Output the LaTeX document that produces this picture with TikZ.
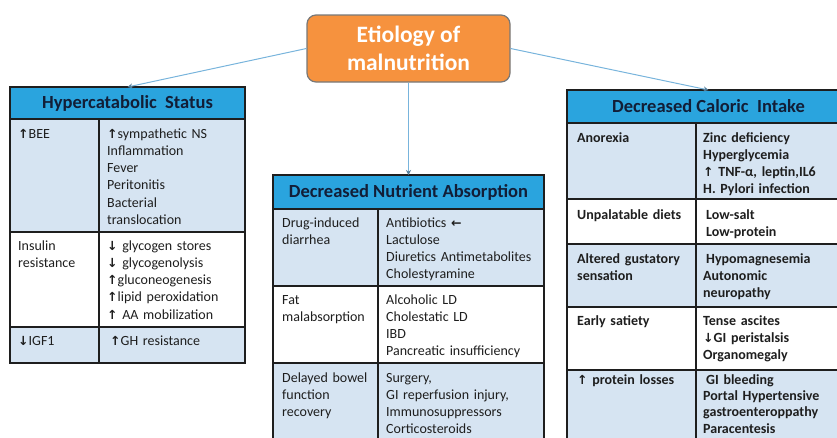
\documentclass[tikz,border=0pt]{standalone}
\usepackage{fontspec}
\setmainfont{Carlito}
\newfontfamily\arrfont{DejaVu Sans}
\usetikzlibrary{arrows.meta}
\definecolor{hdrblue}{RGB}{42,164,222}
\definecolor{rowblue}{RGB}{214,228,242}
\definecolor{bordc}{RGB}{30,30,30}
\definecolor{orangec}{RGB}{246,146,62}
\definecolor{orangeb}{RGB}{120,120,120}
\definecolor{connc}{RGB}{120,180,220}
\definecolor{hdrtext}{RGB}{18,30,55}
\definecolor{bodytext}{RGB}{30,30,30}
\newcommand\myup{{\arrfont\bfseries\fontsize{12.5}{12}\selectfont ↑}}
\newcommand\mydown{{\arrfont\bfseries\fontsize{12.5}{12}\selectfont ↓}}
\newcommand\myleft{{\arrfont\bfseries\fontsize{12.5}{12}\selectfont ←}}
\newcommand\mycell[6]{\node[cellbox, fill=#6, minimum width=#4-#2, minimum height=#5-#3] (#1) at (#2,#3) {};}
\tikzset{
  cellbox/.style={draw=bordc, line width=1.2pt, anchor=north west, inner sep=0pt, outer sep=0pt},
  hdrtxt/.style={font=\fontsize{18.5}{20}\selectfont\bfseries, text=hdrtext, inner sep=0pt},
  txt/.style={anchor=base west, inner sep=0pt, align=left, text width=150pt, text=bodytext,
    font=\fontsize{14}{17.3}\selectfont},
  btxt/.style={txt, font=\fontsize{14}{17}\selectfont\bfseries},
  btxtt/.style={txt, font=\fontsize{14}{16.4}\selectfont\bfseries},
  conn/.style={draw=connc, line width=1pt, -{Stealth[length=5pt,width=5pt,color=connc!70!black]}},
}
\begin{document}
\begin{tikzpicture}[x=1pt,y=-1pt]
\useasboundingbox (0,0) rectangle (837,437);
\begin{scope}
\clip (0,0) rectangle (837,437);
% orange root
\node[draw=orangeb, line width=1.2pt, fill=orangec, rounded corners=9pt, minimum width=203pt, minimum height=67pt,
  inner sep=0pt, align=center, text=white, font=\fontsize{23.5}{28}\selectfont\bfseries] (etio) at (408.5,48.5)
  {Etiology of\\malnutrition};

% ---------------- left table
\mycell{hdrL}{10}{87}{245}{119}{hdrblue}
\mycell{L1a}{10}{119}{99}{232}{rowblue}
\mycell{L1b}{99}{119}{245}{232}{rowblue}
\mycell{L2a}{10}{232}{99}{327}{white}
\mycell{L2b}{99}{232}{245}{327}{white}
\mycell{L3a}{10}{327}{99}{363}{rowblue}
\mycell{L3b}{99}{327}{245}{363}{rowblue}
\node[hdrtxt] (hdrLt) at (hdrL.center) {Hypercatabolic\ \ Status};
\node[txt] (tL1a) at (18,138) {\myup BEE};
\node[txt] (tL1b) at (107,138) {\myup sympathetic NS\\Inflammation\\Fever\\Peritonitis\\Bacterial\\translocation};
\node[txt] (tL2a) at (18,250) {Insulin\\resistance};
\node[txt] (tL2b) at (107,250) {\mydown\ glycogen stores\\\mydown\ glycogenolysis\\\myup gluconeogenesis\\\myup lipid peroxidation\\\myup\ AA mobilization};
\node[txt] (tL3a) at (18,345) {\mydown IGF1};
\node[txt] (tL3b) at (110,345) {\myup GH resistance};

% ---------------- middle table
\mycell{hdrM}{273}{175}{544}{209}{hdrblue}
\mycell{M1a}{273}{209}{378}{286}{rowblue}
\mycell{M1b}{378}{209}{544}{286}{rowblue}
\mycell{M2a}{273}{286}{378}{363}{white}
\mycell{M2b}{378}{286}{544}{363}{white}
\mycell{M3a}{273}{363}{378}{450}{rowblue}
\mycell{M3b}{378}{363}{544}{450}{rowblue}
\node[hdrtxt] (hdrMt) at (hdrM.center) {Decreased Nutrient Absorption};
\node[txt] (tM1a) at (282,227) {Drug-induced\\diarrhea};
\node[txt] (tM1b) at (386,227) {Antibiotics \myleft\\Lactulose\\Diuretics Antimetabolites\\Cholestyramine};
\node[txt] (tM2a) at (282,304) {Fat\\malabsorption};
\node[txt] (tM2b) at (386,304) {Alcoholic LD\\Cholestatic LD\\IBD\\Pancreatic insufficiency};
\node[txt] (tM3a) at (282,382) {Delayed bowel\\function\\recovery};
\node[txt] (tM3b) at (386,382) {Surgery,\\GI reperfusion injury,\\Immunosuppressors\\Corticosteroids};

% ---------------- right table
\mycell{hdrR}{567}{90}{850}{123}{hdrblue}
\mycell{R1a}{567}{123}{696}{199}{rowblue}
\mycell{R1b}{696}{123}{850}{199}{rowblue}
\mycell{R2a}{567}{199}{696}{244}{white}
\mycell{R2b}{696}{199}{850}{244}{white}
\mycell{R3a}{567}{244}{696}{307}{rowblue}
\mycell{R3b}{696}{244}{850}{307}{rowblue}
\mycell{R4a}{567}{307}{696}{370}{white}
\mycell{R4b}{696}{307}{850}{370}{white}
\mycell{R5a}{567}{370}{696}{450}{rowblue}
\mycell{R5b}{696}{370}{850}{450}{rowblue}
\node[hdrtxt] (hdrRt) at (hdrR.center) {Decreased Caloric\ \ Intake};
\node[btxt] (tR1a) at (577,142) {Anorexia};
\node[btxt] (tR1b) at (703,142) {Zinc deficiency\\Hyperglycemia\\\myup\ TNF-α, leptin,IL6\\H. Pylori infection};
\node[btxt] (tR2a) at (577,219) {Unpalatable diets};
\node[btxt] (tR2b) at (706,219) {Low-salt\\Low-protein};
\node[btxt] (tR3a) at (577,263) {Altered gustatory\\sensation};
\node[btxt] (tR3b) at (703,263) {\hspace*{3pt}Hypomagnesemia\\Autonomic\\neuropathy};
\node[btxt] (tR4a) at (577,325) {Early satiety};
\node[btxt] (tR4b) at (703,325) {Tense ascites\\\mydown GI peristalsis\\Organomegaly};
\node[btxtt] (tR5a) at (577,384) {\myup\ protein losses};
\node[btxtt] (tR5b) at (703,384) {\hspace*{3pt}GI bleeding\\Portal Hypertensive\\gastroenteroppathy\\Paracentesis};

% connectors
\draw[conn] (etio.west) -- (hdrL.north);
\draw[conn] (etio.south) -- (hdrM.north);
\draw[conn] (etio.east) -- (hdrR.north);
\end{scope}
\end{tikzpicture}
\end{document}
